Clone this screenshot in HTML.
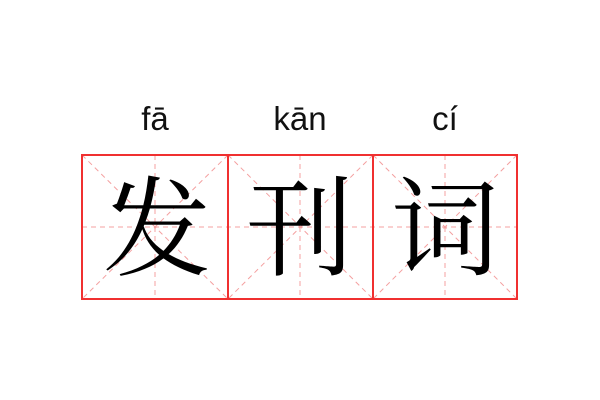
<!DOCTYPE html>
<html><head><meta charset="utf-8"><style>
html,body{margin:0;padding:0;background:#fff;width:600px;height:400px;overflow:hidden}
</style></head><body>
<svg width="600" height="400" xmlns="http://www.w3.org/2000/svg">
<g font-family="'Liberation Sans', sans-serif" font-size="33" fill="#111" text-anchor="middle">
<text x="155" y="130">fā</text>
<text x="300" y="130">kān</text>
<text x="445" y="130">cí</text>
</g>
<g stroke="#f4a0a0" stroke-width="1" stroke-dasharray="5,4" fill="none">
<line x1="82" y1="227" x2="517" y2="227"/>
<line x1="155" y1="155" x2="155" y2="299"/>
<line x1="300" y1="155" x2="300" y2="299"/>
<line x1="445" y1="155" x2="445" y2="299"/>
<line x1="82" y1="155" x2="228" y2="299"/><line x1="228" y1="155" x2="82" y2="299"/>
<line x1="228" y1="155" x2="373" y2="299"/><line x1="373" y1="155" x2="228" y2="299"/>
<line x1="373" y1="155" x2="517" y2="299"/><line x1="517" y1="155" x2="373" y2="299"/>
</g>
<g stroke="#f03030" stroke-width="2" fill="none">
<rect x="82" y="155" width="435" height="144"/>
<line x1="228" y1="155" x2="228" y2="299"/>
<line x1="373" y1="155" x2="373" y2="299"/>
</g>
<g font-family="'Noto Serif CJK SC', serif" font-size="108" fill="#000" text-anchor="middle">
<text x="157" y="267">发</text>
<text x="300" y="267">刊</text>
<text x="445" y="267">词</text>
</g>
</svg>
</body></html>
